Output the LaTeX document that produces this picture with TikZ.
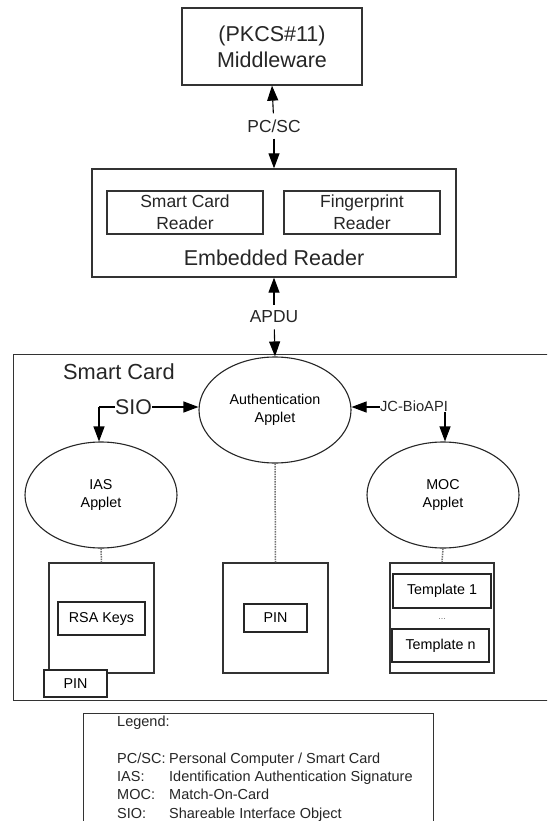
\documentclass[tikz,border=0pt]{standalone}
\usepackage{fontspec}
\setmainfont{Liberation Sans}
\usetikzlibrary{arrows.meta,shapes.geometric}

\tikzset{
  box/.style={draw=black!80, line width=1.3pt, fill=white, inner sep=0pt},
  store/.style={draw=black!80, line width=1.3pt, fill=white, inner sep=0pt},
  item/.style={draw=black!85, line width=1.5pt, fill=white, inner sep=0pt, font=\fontsize{14.3}{17}\selectfont},
  applet/.style={draw=black!85, ellipse, line width=1.1pt, fill=white, inner sep=0pt,
                 minimum width=152pt, minimum height=106pt, align=center,
                 font=\fontsize{14.3}{18.5}\selectfont},
  tip/.style={line width=1.1pt, -{Triangle[length=15pt,width=11pt]}},
  member/.style={draw=black!55, line width=1.5pt, densely dotted},
  lbl/.style={fill=white, inner sep=1pt, text=black!85},
  legtext/.style={anchor=base west, inner sep=0pt, font=\fontsize{14.5}{17}\selectfont, text=black!85}
}

\begin{document}
\begin{tikzpicture}[x=1pt,y=-1pt]
\useasboundingbox (0,0) rectangle (547,821);
\clip (0,0) rectangle (547,821);

% host side
\node[box, minimum width=180pt, minimum height=77pt, align=center,
      font=\fontsize{21.5}{26}\selectfont, text=black!85] (mw) at (272,46.5) {(PKCS\#11)\\Middleware};

\node[box, minimum width=364pt, minimum height=108pt] (er) at (274,223) {};
\node[font=\fontsize{21.5}{26}\selectfont, text=black!85, inner sep=0pt] (erlbl) at (274,258) {Embedded Reader};
\node[box, minimum width=156pt, minimum height=43pt, align=center, text=black!85,
      font=\fontsize{17.5}{22}\selectfont] (scr) at (185,212.5) {Smart Card\\Reader};
\node[box, minimum width=156pt, minimum height=43pt, align=center, text=black!85,
      font=\fontsize{17.5}{22}\selectfont] (fpr) at (362,212.5) {Fingerprint\\Reader};

\node[font=\fontsize{17.4}{20}\selectfont, text=black!85, inner sep=6pt] (pcsc) at (274,126) {PC/SC};
\draw[tip] (pcsc) -- (mw.south);
\draw[tip] (pcsc) -- (er.north);

% smart card
\node[box, minimum width=560pt, minimum height=346pt, anchor=north west] (card) at (13,354) {};
\node[font=\fontsize{21.8}{26}\selectfont, text=black!85, anchor=west, inner sep=0pt] (cardlbl) at (63,372) {Smart Card};

\node[applet] (auth) at (275,410) {Authentication\\Applet};
\node[applet] (ias) at (101,495) {IAS\\Applet};
\node[applet] (moc) at (443,495) {MOC\\Applet};

\node[font=\fontsize{17.4}{20}\selectfont, text=black!85, inner sep=6pt] (apdu) at (274,317) {APDU};
\draw[tip] (apdu) -- (er.south);
\draw[tip] (apdu) -- (auth.north);

% applet links
\coordinate (siocorner) at (99,407);
\coordinate (biocorner) at (445,407);
\draw[tip] (siocorner) -- (siocorner |- ias.north);
\draw[tip] (siocorner) -- (auth.west |- siocorner);
\node[lbl, font=\fontsize{21.3}{24}\selectfont, inner sep=0.5pt] (sio) at (133.5,407) {SIO};
\draw[tip] (biocorner) -- (biocorner |- moc.north);
\draw[tip] (biocorner) -- (auth.east |- biocorner);
\node[lbl, font=\fontsize{14.7}{17}\selectfont, inner sep=0.5pt] (bio) at (414,406) {JC-BioAPI};

% applet storage
\node[store, minimum width=105pt, minimum height=110pt] (iasstore) at (101.5,618) {};
\node[store, minimum width=105pt, minimum height=110pt] (authstore) at (275.5,618) {};
\node[store, minimum width=104pt, minimum height=110pt] (mocstore) at (442,618) {};

\draw[member] (ias.south) -- (iasstore.north);
\draw[member] (auth.south) -- (authstore.north);
\draw[member] (moc.south) -- (mocstore.north);

\node[item, minimum width=87pt, minimum height=33pt] (rsa) at (101.5,618.5) {RSA Keys};
\node[item, minimum width=63pt, minimum height=27pt] (iaspin) at (75.5,683.5) {PIN};
\node[item, minimum width=63pt, minimum height=28pt] (authpin) at (275.5,618) {PIN};
\node[item, minimum width=98pt, minimum height=34pt] (tpl1) at (442,591) {Template 1};
\node[font=\fontsize{9}{10}\selectfont, text=black!55, inner sep=0pt] (dots) at (442,619) {...};
\node[item, minimum width=97pt, minimum height=33pt] (tpln) at (440.5,645.5) {Template n};

% legend
\node[box, minimum width=350pt, minimum height=130pt, anchor=north west] (legend) at (83,713) {};
\node[legtext] (leghead) at (117,726) {Legend:};
\node[legtext] (k1) at (117,763) {PC/SC:};
\node[legtext] (v1) at (169,763) {Personal Computer / Smart Card};
\node[legtext] (k2) at (117,781) {IAS:};
\node[legtext] (v2) at (169,781) {Identification Authentication Signature};
\node[legtext] (k3) at (117,799) {MOC:};
\node[legtext] (v3) at (169,799) {Match-On-Card};
\node[legtext] (k4) at (117,818) {SIO:};
\node[legtext] (v4) at (169,818) {Shareable Interface Object};
\end{tikzpicture}
\end{document}
